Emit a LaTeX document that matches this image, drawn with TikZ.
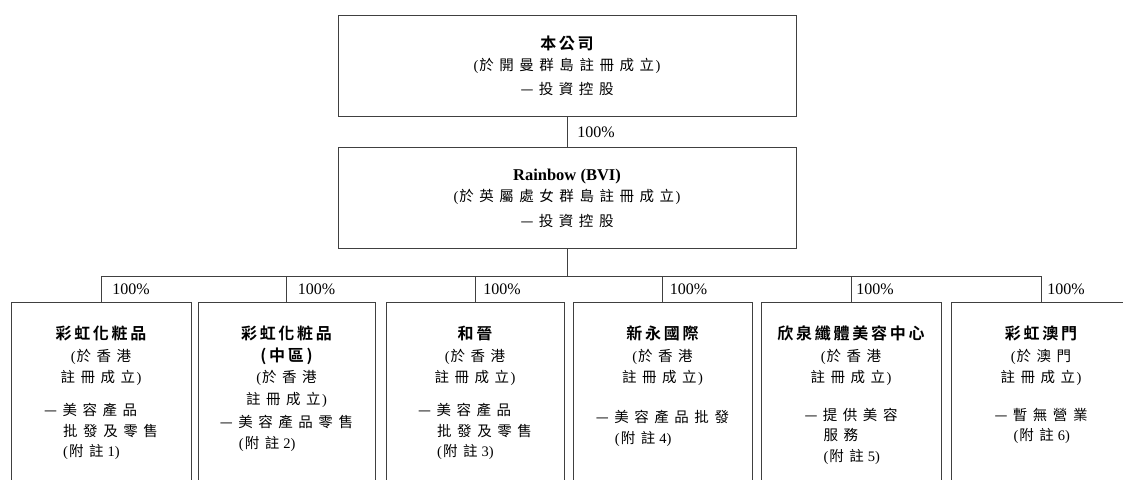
\documentclass[tikz,border=0pt]{standalone}
\usepackage{fontspec}
\setmainfont{Liberation Serif}
\newfontfamily\cjk[LetterSpace=38]{Noto Sans CJK TC}
\newfontfamily\cjkhead[LetterSpace=17,BoldFont={* Bold}]{Noto Sans CJK TC}
\usepackage{tikz}
\usetikzlibrary{positioning}
\newcommand{\entname}[1]{{\cjkhead\bfseries\fontsize{16}{21}\selectfont #1}}
\newcommand{\op}{{\rmfamily(}\kern1pt}
\newcommand{\cp}{{\kern1.5pt\rmfamily)}}
\newcommand{\notemark}[1]{\op 附註\kern4pt{\rmfamily #1)}}
\newcommand{\hang}{\hspace*{19pt}}

\begin{document}
\begin{tikzpicture}[x=1pt, y=-1pt,
        holdbox/.style={draw=black!75, line width=0.9pt, minimum width=458pt, minimum height=101pt, inner sep=0pt, align=center, font=\cjk\fontsize{14.5}{21}\selectfont},
        subbox/.style={draw=black!75, line width=0.9pt, minimum height=220pt, anchor=north, inner sep=0pt},
        subtxt/.style={inner sep=0pt, anchor=north, align=center, font=\cjk\fontsize{14.5}{21.5}\selectfont},
        acttxt/.style={inner sep=0pt, anchor=north, align=left, font=\cjk\fontsize{14.5}{20.5}\selectfont},
        pct/.style={inner sep=0pt, font=\fontsize{16}{18}\selectfont},
        link/.style={draw=black!75, line width=0.9pt, line cap=rect}
    ]
        \useasboundingbox (0,0) rectangle (1123,479);
        \clip (0,0) rectangle (1123,479);

        % holding companies
        \node[holdbox] (hold) at (567,65.5) {\entname{本公司}\\\op 於開曼群島註冊成立\cp\\[3pt]—投資控股};
        \node[holdbox, below=31pt of hold] (rainbow) {{\rmfamily\bfseries\fontsize{16.5}{21}\selectfont Rainbow (BVI)}\\\op 於英屬處女群島註冊成立\cp\\[4pt]—投資控股};

        % subsidiaries
        \node[subbox, minimum width=180pt] (hk1) at (101,302) {};
        \node[subbox, minimum width=177pt] (hk2) at (286.5,302) {};
        \node[subbox, minimum width=178pt] (hk3) at (475,302) {};
        \node[subbox, minimum width=179pt] (hk4) at (662.5,302) {};
        \node[subbox, minimum width=180pt] (hk5) at (851,302) {};
        \node[subbox, minimum width=180pt] (mo) at (1041,302) {};

        \node[subtxt, below=24pt of hk1.north] (hk1txt) {\entname{彩虹化粧品}\\\op 於香港\\註冊成立\cp};
        \node[subtxt, below=24pt of hk2.north] (hk2txt) {\entname{彩虹化粧品}\\\entname{(中區)}\\\op 於香港\\註冊成立\cp};
        \node[subtxt, below=24pt of hk3.north] (hk3txt) {\entname{和晉}\\\op 於香港\\註冊成立\cp};
        \node[subtxt, below=24pt of hk4.north] (hk4txt) {\entname{新永國際}\\\op 於香港\\註冊成立\cp};
        \node[subtxt, below=24pt of hk5.north] (hk5txt) {\entname{欣泉纖體美容中心}\\\op 於香港\\註冊成立\cp};
        \node[subtxt, below=24pt of mo.north] (motxt) {\entname{彩虹澳門}\\\op 於澳門\\註冊成立\cp};

        \node[acttxt, below=101pt of hk1.north] (hk1act) {—美容產品\\\hang 批發及零售\\\hang\notemark{1}};
        \node[acttxt, below=113pt of hk2.north] (hk2act) {—美容產品零售\\\hang\notemark{2}};
        \node[acttxt, below=101pt of hk3.north] (hk3act) {—美容產品\\\hang 批發及零售\\\hang\notemark{3}};
        \node[acttxt, below=108pt of hk4.north] (hk4act) {—美容產品批發\\\hang\notemark{4}};
        \node[acttxt, below=106pt of hk5.north] (hk5act) {—提供美容\\\hang 服務\\\hang\notemark{5}};
        \node[acttxt, below=106pt of mo.north] (moact) {—暫無營業\\\hang\notemark{6}};

        % shareholding lines
        \coordinate[below=27pt of rainbow.south] (bus);
        \draw[link] (hold) -- node[pct, right=10pt] {100\%} (rainbow);
        \draw[link] (rainbow) -- (bus);
        \draw[link] (hk1 |- bus) -- (mo |- bus);
        \draw[link] (hk1) -- node[pct, right=11pt] {100\%} (hk1 |- bus);
        \draw[link] (hk2) -- node[pct, right=11pt] {100\%} (hk2 |- bus);
        \draw[link] (hk3) -- node[pct, right=8pt] {100\%} (hk3 |- bus);
        \draw[link] (hk4) -- node[pct, right=7pt] {100\%} (hk4 |- bus);
        \draw[link] (hk5) -- node[pct, right=5pt] {100\%} (hk5 |- bus);
        \draw[link] (mo) -- node[pct, right=6pt] {100\%} (mo |- bus);
    \end{tikzpicture}
\end{document}
